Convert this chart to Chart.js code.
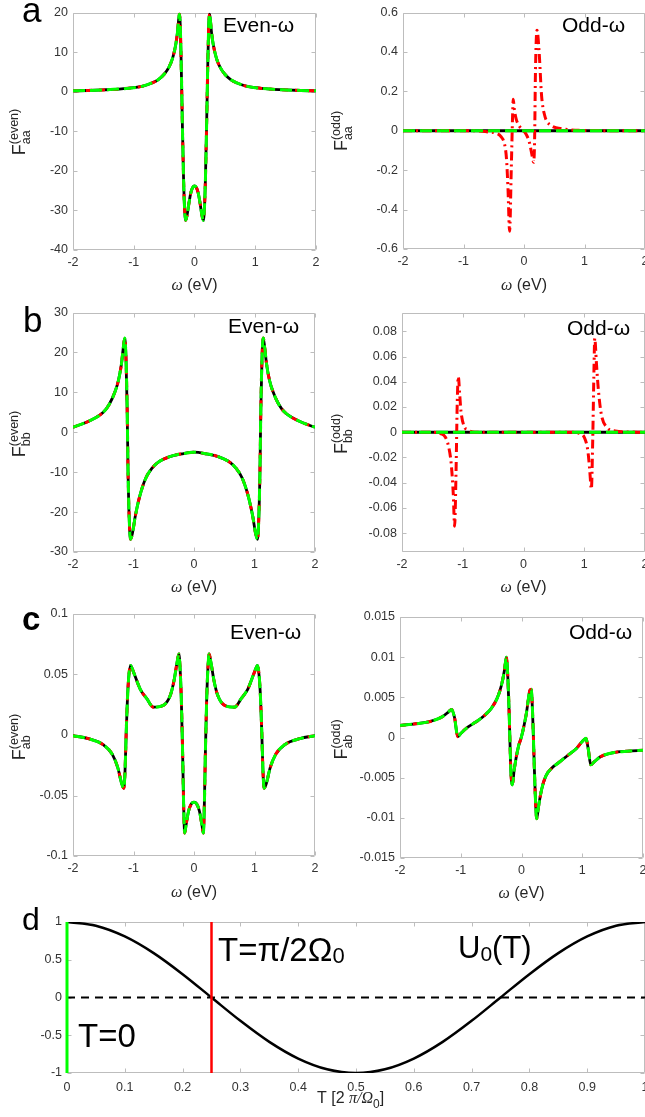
<!DOCTYPE html>
<html>
<head>
<meta charset="utf-8">
<script src="https://cdn.jsdelivr.net/npm/chart.js@4.4.1/dist/chart.umd.min.js"></script>
<style>
  html, body { margin: 0; padding: 0; background: #fff; overflow: hidden; }
  body { position: relative; width: 645px; height: 1117px; }
  canvas.p { position: absolute; }
</style>
</head>
<body>
<canvas id="aEven" class="p"></canvas>
<canvas id="aOdd" class="p"></canvas>
<canvas id="bEven" class="p"></canvas>
<canvas id="bOdd" class="p"></canvas>
<canvas id="cEven" class="p"></canvas>
<canvas id="cOdd" class="p"></canvas>
<canvas id="dU" class="p"></canvas>
<script>
// ---- frequency axis and pair amplitudes (omega in eV) ----
const zeroX = [-2, 2];
const zeroY = [0, 0];

// F_aa even
const aEvenX = [-2,-1.75,-1.5,-1.25,-1,-0.85,-0.7,-0.6,-0.5,-0.42,-0.36,-0.31,-0.28,-0.265,-0.25,-0.235,-0.22,-0.2,-0.18,-0.165,-0.145,-0.12,-0.09,-0.06,-0.03,
                0,0.03,0.06,0.09,0.12,0.145,0.165,0.18,0.2,0.22,0.235,0.25,0.265,0.28,0.31,0.36,0.42,0.5,0.6,0.7,0.85,1,1.25,1.5,1.75,2];
const aEvenY = [0.2,0.3,0.45,0.65,1.0,1.4,2.2,3.0,4.4,6.2,8.5,11.8,15,17.5,19.6,17,8,-8,-22,-29,-32.5,-31,-28,-25.5,-24.2,
                -23.8,-24.2,-25.5,-28,-31,-32.5,-29,-22,-8,8,17,19.6,17.5,15,11.8,8.5,6.2,4.4,3.0,2.2,1.4,1.0,0.65,0.45,0.3,0.2];

// F_aa odd (red curve; the other two stay on zero)
const aOddX = [-2,-0.8,-0.62,-0.46,-0.38,-0.32,-0.29,-0.265,-0.238,-0.21,-0.19,-0.178,-0.16,-0.13,-0.08,-0.04,0.04,0.09,0.13,0.16,0.175,0.19,0.215,0.25,0.29,0.34,0.43,0.65,0.9,2];
const aOddY = [0,0,-0.005,-0.013,-0.03,-0.07,-0.14,-0.29,-0.51,-0.19,0.06,0.16,0.11,0.06,0.025,0.01,-0.02,-0.06,-0.12,-0.16,-0.05,0.31,0.51,0.4,0.18,0.08,0.03,0.01,0.002,0];

// F_bb even
const bEvenX = [-2,-1.75,-1.5,-1.4,-1.3,-1.25,-1.2,-1.17,-1.145,-1.125,-1.105,-1.09,-1.07,-1.05,-1.02,-0.97,-0.9,-0.8,-0.7,-0.6,-0.4,-0.2,
                0,0.2,0.4,0.6,0.7,0.8,0.9,0.97,1.02,1.05,1.07,1.09,1.105,1.125,1.145,1.17,1.2,1.25,1.3,1.4,1.5,1.75,2];
const bEvenY = [1.25,2.7,5,7,10.4,12.9,17,21,23.6,19,6,-10,-22,-26.8,-25.5,-21,-16.2,-11.6,-9.1,-7.6,-6.1,-5.4,
                -5.0,-5.4,-6.1,-7.6,-9.1,-11.6,-16.2,-21,-25.5,-26.8,-22,-10,6,19,23.6,21,17,12.9,10.4,7,5,2.7,1.25];

// F_bb odd (red curve)
const bOddX = [-2,-1.5,-1.37,-1.285,-1.23,-1.19,-1.156,-1.134,-1.11,-1.09,-1.073,-1.05,-1.03,-0.98,-0.92,-0.8,
               0.8,0.92,1.0,1.06,1.09,1.117,1.14,1.16,1.173,1.2,1.23,1.28,1.37,1.51,2];
const bOddY = [0,0,-0.001,-0.004,-0.012,-0.025,-0.049,-0.0745,-0.03,0.025,0.044,0.03,0.017,0.005,0.002,0,
               0,-0.001,-0.004,-0.015,-0.03,-0.045,-0.005,0.05,0.0745,0.055,0.035,0.0145,0.004,0.001,0];

// F_ab even
const cEvenX = [-2,-1.75,-1.5,-1.35,-1.26,-1.19,-1.16,-1.14,-1.12,-1.1,-1.08,-1.05,-1.0,-0.89,-0.78,-0.67,-0.5,-0.39,-0.33,-0.28,-0.25,-0.23,-0.21,-0.19,-0.17,-0.155,-0.13,-0.09,-0.045,
                0,0.045,0.09,0.13,0.155,0.17,0.19,0.21,0.23,0.25,0.28,0.33,0.39,0.5,0.67,0.78,0.89,1.0,1.05,1.08,1.1,1.12,1.14,1.16,1.19,1.26,1.35,1.5,1.75,2];
const cEvenY = [-0.0005,-0.003,-0.008,-0.016,-0.027,-0.041,-0.044,-0.03,0.003,0.03,0.047,0.0575,0.052,0.038,0.030,0.023,0.0247,0.033,0.045,0.060,0.067,0.055,0.03,-0.01,-0.06,-0.081,-0.074,-0.063,-0.057,
                -0.0555,-0.057,-0.063,-0.074,-0.081,-0.06,-0.01,0.03,0.055,0.067,0.060,0.045,0.033,0.0247,0.023,0.030,0.038,0.052,0.0575,0.047,0.03,0.003,-0.03,-0.044,-0.041,-0.027,-0.016,-0.008,-0.003,-0.0005];

// F_ab odd
const cOddX = [-2,-1.75,-1.5,-1.3,-1.2,-1.15,-1.1,-1.05,-1.0,-0.9,-0.8,-0.7,-0.6,-0.5,-0.4,-0.33,-0.28,-0.25,-0.225,-0.205,-0.19,-0.175,-0.15,-0.12,-0.05,
               0,0.08,0.14,0.16,0.18,0.195,0.21,0.23,0.25,0.28,0.33,0.4,0.5,0.6,0.7,0.8,0.9,1.0,1.06,1.1,1.14,1.2,1.3,1.5,1.75,2];
const cOddY = [0.0015,0.0017,0.002,0.0026,0.0032,0.0035,0.0024,0.0001,0.0005,0.0012,0.0017,0.0022,0.0028,0.0036,0.0049,0.0065,0.0084,0.01,0.0075,0.0035,-0.0005,-0.0042,-0.0059,-0.004,-0.0011,
               0.0001,0.003,0.0059,0.006,0.0035,0.0003,-0.0035,-0.0078,-0.0101,-0.0086,-0.0065,-0.0048,-0.0038,-0.0032,-0.0026,-0.002,-0.0014,-0.0005,-0.0001,-0.0015,-0.0034,-0.003,-0.0024,-0.0019,-0.0017,-0.0016];

// ---- drive profile U0(T), T in units of 2pi/Omega0 ----
const tT = [0,0.05,0.1,0.15,0.2,0.25,0.3,0.35,0.4,0.45,0.5,0.55,0.6,0.65,0.7,0.75,0.8,0.85,0.9,0.95,1];
const uT = [1,0.951,0.809,0.588,0.309,0,-0.309,-0.588,-0.809,-0.951,-1,-0.951,-0.809,-0.588,-0.309,0,0.309,0.588,0.809,0.951,1];
const zeroT = [0, 1];
const markT0 = [0, 0];
const markTq = [0.25, 0.25];
const markU = [-1, 1];

// ---- styling ----
const SANS = '"Liberation Sans", Arial, Helvetica, sans-serif';
const SERIF = '"Liberation Serif", "Times New Roman", serif';
const TICK = '#333333';
const FRAME = '#bdbdbd';
const TXT = '#262626';
const GREEN = '#00ff00', RED = '#ff0000', BLACK = '#000000';

const pts = (xs, ys) => xs.map((x, i) => ({ x, y: ys[i] }));
const fmt = v => String(Math.round(v * 1e6) / 1e6);

// box with inward tick marks on all four sides
const frame = {
  id: 'frame',
  beforeDatasetsDraw(c) {
    const { ctx, chartArea: a, scales } = c;
    const L = Math.round(a.left) + 0.5, R = Math.round(a.right) - 0.5;
    const T = Math.round(a.top) + 0.5, B = Math.round(a.bottom) - 0.5;
    const tl = 4;
    ctx.save();
    ctx.strokeStyle = FRAME; ctx.lineWidth = 1;
    ctx.beginPath();
    ctx.rect(L, T, R - L, B - T);
    scales.x.ticks.forEach(t => {
      const p = Math.round(scales.x.getPixelForValue(t.value)) + 0.5;
      ctx.moveTo(p, B); ctx.lineTo(p, B - tl);
      ctx.moveTo(p, T); ctx.lineTo(p, T + tl);
    });
    scales.y.ticks.forEach(t => {
      const p = Math.round(scales.y.getPixelForValue(t.value)) + 0.5;
      ctx.moveTo(L, p); ctx.lineTo(L + tl, p);
      ctx.moveTo(R, p); ctx.lineTo(R - tl, p);
    });
    ctx.stroke();
    ctx.restore();
  }
};

// text helpers
function txt(ctx, s, x, y, size, family, opts = {}) {
  ctx.save();
  ctx.font = (opts.style || '') + ' ' + (opts.weight || '') + ' ' + size + 'px ' + family;
  ctx.fillStyle = opts.color || '#000';
  ctx.textAlign = 'left';
  ctx.textBaseline = 'alphabetic';
  ctx.fillText(s, x, y);
  const w = ctx.measureText(s).width;
  ctx.restore();
  return w;
}
function yTitle(ctx, x, cy, sup, sub) {
  ctx.save();
  ctx.translate(x, cy);
  ctx.rotate(-Math.PI / 2);
  ctx.fillStyle = TXT;
  ctx.font = '18px ' + SANS;
  const wF = ctx.measureText('F').width;
  ctx.font = '12.5px ' + SANS;
  const wS = Math.max(ctx.measureText(sup).width, ctx.measureText(sub).width);
  const x0 = -(wF + wS) / 2;
  ctx.font = '18px ' + SANS;
  ctx.fillText('F', x0, 0);
  ctx.font = '12.5px ' + SANS;
  ctx.fillText(sup, x0 + wF, -7);
  ctx.fillText(sub, x0 + wF, 5);
  ctx.restore();
}
function omegaTitle(ctx, cx, y) {
  ctx.save();
  ctx.font = 'italic 16px ' + SERIF;
  const w1 = ctx.measureText('\u03c9').width;
  ctx.font = '16px ' + SANS;
  const w2 = ctx.measureText(' (eV)').width;
  const x0 = cx - (w1 + w2) / 2;
  ctx.fillStyle = TXT;
  ctx.font = 'italic 16px ' + SERIF;
  ctx.fillText('\u03c9', x0, y);
  ctx.font = '16px ' + SANS;
  ctx.fillText(' (eV)', x0 + w1, y);
  ctx.restore();
}

function panel(id, left, top, w, h, area, xr, yr, datasets, decorate) {
  const cv = document.getElementById(id);
  cv.width = w; cv.height = h;
  cv.style.left = left + 'px'; cv.style.top = top + 'px';
  const tickFont = { size: 12.5, family: SANS };
  new Chart(cv, {
    type: 'scatter',
    data: { datasets },
    options: {
      responsive: false,
      animation: false,
      devicePixelRatio: 1,
      events: [],
      layout: { padding: { left: 0, top: area.t, right: w - area.r, bottom: 0 } },
      plugins: { legend: { display: false }, tooltip: { enabled: false } },
      elements: { point: { radius: 0 } },
      scales: {
        x: {
          type: 'linear', min: xr.min, max: xr.max,
          afterFit(s) { s.height = h - area.b; },
          grid: { display: false, drawTicks: false }, border: { display: false },
          ticks: { stepSize: xr.step, padding: xr.pad, color: TICK, font: tickFont,
                   maxRotation: 0, autoSkip: false, includeBounds: false, callback: fmt }
        },
        y: {
          type: 'linear', min: yr.min, max: yr.max,
          afterFit(s) { s.width = area.l; },
          grid: { display: false, drawTicks: false }, border: { display: false },
          ticks: { stepSize: yr.step, padding: yr.pad, color: TICK, font: tickFont,
                   autoSkip: false, includeBounds: false, callback: fmt }
        }
      }
    },
    plugins: [frame, { id: 'labels', afterDraw: c => decorate(c.ctx) }]
  });
}

// three overlapping curves: green on top, red dashes, black underneath
function triple(xs, ys, redXs, redYs, blackXs, blackYs, redDash) {
  const base = { showLine: true, pointRadius: 0, borderWidth: 3, cubicInterpolationMode: 'monotone',
                 borderJoinStyle: 'round', fill: false };
  return [
    Object.assign({}, base, { label: 'green', data: pts(xs, ys), borderColor: GREEN, borderDash: [12, 5] }),
    Object.assign({}, base, { label: 'red', data: pts(redXs, redYs), borderColor: RED, borderDash: redDash }),
    Object.assign({}, base, { label: 'black', data: pts(blackXs, blackYs), borderColor: BLACK, borderWidth: 2.8 })
  ];
}

const omegaAxis = { min: -2, max: 2, step: 1, pad: 5 };
const EVEN_DASH = [6, 7];
const ODD_DASH = [9, 4, 2, 4];

// a
panel('aEven', 0, 0, 330, 300, { l: 73, t: 10, r: 316, b: 250 }, omegaAxis,
  { min: -40, max: 20, step: 10, pad: 5 },
  triple(aEvenX, aEvenY, aEvenX, aEvenY, aEvenX, aEvenY, EVEN_DASH),
  ctx => {
    txt(ctx, 'a', 22, 22, 35, SANS);
    txt(ctx, 'Even-\u03c9', 223, 32, 21, SANS);
    yTitle(ctx, 25, 132, '(even)', 'aa');
    omegaTitle(ctx, 194.5, 290);
  });
panel('aOdd', 330, 0, 330, 300, { l: 73, t: 9, r: 315, b: 249 }, omegaAxis,
  { min: -0.6, max: 0.6, step: 0.2, pad: 5 },
  triple(zeroX, zeroY, aOddX, aOddY, zeroX, zeroY, ODD_DASH),
  ctx => {
    txt(ctx, 'Odd-\u03c9', 232, 32, 21, SANS);
    yTitle(ctx, 17, 131, '(odd)', 'aa');
    omegaTitle(ctx, 194, 290);
  });

// b
panel('bEven', 0, 300, 330, 305, { l: 73, t: 12, r: 315, b: 252 }, omegaAxis,
  { min: -30, max: 30, step: 10, pad: 5 },
  triple(bEvenX, bEvenY, bEvenX, bEvenY, bEvenX, bEvenY, EVEN_DASH),
  ctx => {
    txt(ctx, 'b', 23, 32, 35, SANS);
    txt(ctx, 'Even-\u03c9', 228, 33, 21, SANS);
    yTitle(ctx, 25, 134, '(even)', 'bb');
    omegaTitle(ctx, 194, 292);
  });
panel('bOdd', 330, 300, 330, 305, { l: 72, t: 12, r: 315, b: 252 }, omegaAxis,
  { min: -0.095, max: 0.095, step: 0.02, pad: 5 },
  triple(zeroX, zeroY, bOddX, bOddY, zeroX, zeroY, ODD_DASH),
  ctx => {
    txt(ctx, 'Odd-\u03c9', 237, 35, 21, SANS);
    yTitle(ctx, 17, 134, '(odd)', 'bb');
    omegaTitle(ctx, 193.5, 292);
  });

// c
panel('cEven', 0, 600, 330, 305, { l: 73, t: 14, r: 315, b: 256 }, omegaAxis,
  { min: -0.1, max: 0.1, step: 0.05, pad: 5 },
  triple(cEvenX, cEvenY, cEvenX, cEvenY, cEvenX, cEvenY, EVEN_DASH),
  ctx => {
    txt(ctx, 'c', 22, 30, 33, SANS, { weight: 'bold' });
    txt(ctx, 'Even-\u03c9', 230, 39, 21, SANS);
    yTitle(ctx, 25, 137, '(even)', 'ab');
    omegaTitle(ctx, 194, 297);
  });
panel('cOdd', 330, 600, 330, 305, { l: 70, t: 17, r: 313, b: 258 }, omegaAxis,
  { min: -0.015, max: 0.015, step: 0.005, pad: 5 },
  triple(cOddX, cOddY, cOddX, cOddY, cOddX, cOddY, EVEN_DASH),
  ctx => {
    txt(ctx, 'Odd-\u03c9', 239, 39, 21, SANS);
    yTitle(ctx, 17, 139.5, '(odd)', 'ab');
    omegaTitle(ctx, 191.5, 298);
  });

// d
const line = (xs, ys, color, width, dash, curve, clip) => ({
  showLine: true, pointRadius: 0, borderWidth: width, borderColor: color, borderDash: dash || [],
  cubicInterpolationMode: curve ? 'monotone' : 'default', tension: 0, fill: false,
  clip: clip === undefined ? undefined : clip,
  data: pts(xs, ys)
});
panel('dU', 0, 900, 660, 217, { l: 67, t: 22, r: 645, b: 173 },
  { min: 0, max: 1, step: 0.1, pad: 7 },
  { min: -1, max: 1, step: 0.5, pad: 5 },
  [
    line(markT0, markU, GREEN, 3, null, false, false),
    line(markTq, markU, RED, 2.5),
    line(tT, uT, BLACK, 2.5, null, true),
    line(zeroT, zeroY, BLACK, 2, [8, 6])
  ],
  ctx => {
    txt(ctx, 'd', 22, 30, 32, SANS);
    let x = 218;
    x += txt(ctx, 'T=\u03c0/2\u03a9', x, 61, 33, SANS);
    txt(ctx, '0', x, 63, 22, SANS);
    x = 458;
    x += txt(ctx, 'U', x, 58, 31, SANS);
    x += txt(ctx, '0', x, 61, 21, SANS);
    txt(ctx, '(T)', x, 58, 31, SANS);
    txt(ctx, 'T=0', 78, 147, 33, SANS);
    x = 317;
    x += txt(ctx, 'T [2 ', x, 203, 16, SANS, { color: TXT });
    x += txt(ctx, '\u03c0/\u03a9', x, 203, 16, SERIF, { color: TXT, style: 'italic' });
    x += txt(ctx, '0', x, 208, 12, SANS, { color: TXT });
    txt(ctx, ']', x, 203, 16, SANS, { color: TXT });
  });
</script>
</body>
</html>
